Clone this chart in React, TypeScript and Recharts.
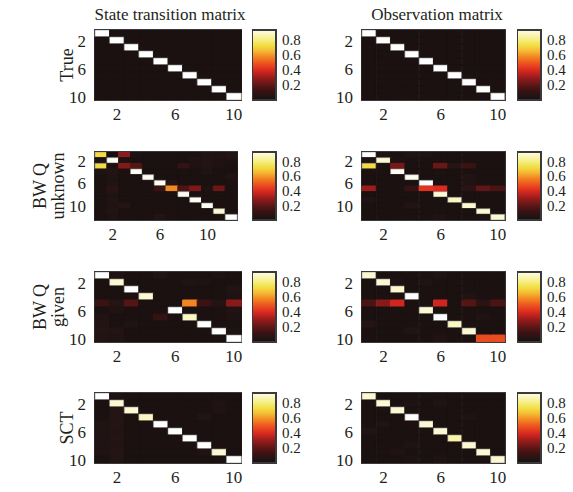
import React from 'react';
import { BarChart, Bar, XAxis, YAxis, Cell, ReferenceArea } from 'recharts';

// tick labels shown on both axes of every panel
const shownTicks = ['2', '6', '10'];
const colorbarTicks = [0.2, 0.4, 0.6, 0.8];
const columnTitles = ['State transition matrix', 'Observation matrix'];
const rowTitles = [['True'], ['BW Q', 'unknown'], ['BW Q', 'given'], ['SCT']];

const trueTransition = [
  [0.97, 0.02, 0.02, 0.02, 0.02, 0.02, 0.02, 0.02, 0.02, 0.02],
  [0.02, 0.97, 0.02, 0.02, 0.02, 0.02, 0.02, 0.02, 0.02, 0.02],
  [0.02, 0.02, 0.97, 0.02, 0.02, 0.02, 0.02, 0.02, 0.02, 0.02],
  [0.02, 0.02, 0.02, 0.97, 0.02, 0.02, 0.02, 0.02, 0.02, 0.02],
  [0.02, 0.02, 0.02, 0.02, 0.97, 0.02, 0.02, 0.02, 0.02, 0.02],
  [0.02, 0.02, 0.02, 0.02, 0.02, 0.97, 0.02, 0.02, 0.02, 0.02],
  [0.02, 0.02, 0.02, 0.02, 0.02, 0.02, 0.97, 0.02, 0.02, 0.02],
  [0.02, 0.02, 0.02, 0.02, 0.02, 0.02, 0.02, 0.97, 0.02, 0.02],
  [0.02, 0.02, 0.02, 0.02, 0.02, 0.02, 0.02, 0.02, 0.97, 0.02],
  [0.02, 0.02, 0.02, 0.02, 0.02, 0.02, 0.02, 0.02, 0.02, 0.97],
];

const trueObservation = [
  [0.97, 0.02, 0.02, 0.02, 0.02, 0.02, 0.02, 0.02, 0.02, 0.02],
  [0.02, 0.97, 0.02, 0.02, 0.02, 0.02, 0.02, 0.02, 0.02, 0.02],
  [0.02, 0.02, 0.97, 0.02, 0.02, 0.02, 0.02, 0.02, 0.02, 0.02],
  [0.02, 0.02, 0.02, 0.97, 0.02, 0.02, 0.02, 0.02, 0.02, 0.02],
  [0.02, 0.02, 0.02, 0.02, 0.97, 0.02, 0.02, 0.02, 0.02, 0.02],
  [0.02, 0.02, 0.02, 0.02, 0.02, 0.97, 0.02, 0.02, 0.02, 0.02],
  [0.02, 0.02, 0.02, 0.02, 0.02, 0.02, 0.97, 0.02, 0.02, 0.02],
  [0.02, 0.02, 0.02, 0.02, 0.02, 0.02, 0.02, 0.97, 0.02, 0.02],
  [0.02, 0.02, 0.02, 0.02, 0.02, 0.02, 0.02, 0.02, 0.97, 0.02],
  [0.02, 0.02, 0.02, 0.02, 0.02, 0.02, 0.02, 0.02, 0.02, 0.97],
];

const bwUnknownTransition = [
  [0.72, 0.0, 0.28, 0.03, 0.02, 0.02, 0.02, 0.02, 0.02, 0.05, 0.04, 0.05],
  [0.03, 0.95, 0.03, 0.02, 0.02, 0.02, 0.02, 0.02, 0.04, 0.05, 0.03, 0.03],
  [0.72, 0.02, 0.26, 0.18, 0.02, 0.02, 0.02, 0.1, 0.03, 0.05, 0.03, 0.02],
  [0.03, 0.05, 0.02, 0.95, 0.02, 0.02, 0.02, 0.02, 0.02, 0.04, 0.02, 0.02],
  [0.02, 0.05, 0.02, 0.02, 0.95, 0.02, 0.02, 0.02, 0.02, 0.02, 0.02, 0.04],
  [0.02, 0.04, 0.02, 0.02, 0.02, 0.95, 0.06, 0.02, 0.02, 0.02, 0.02, 0.02],
  [0.02, 0.08, 0.02, 0.02, 0.02, 0.12, 0.58, 0.16, 0.25, 0.03, 0.22, 0.02],
  [0.02, 0.04, 0.02, 0.02, 0.02, 0.02, 0.02, 0.95, 0.02, 0.02, 0.02, 0.02],
  [0.02, 0.05, 0.02, 0.02, 0.02, 0.02, 0.02, 0.02, 0.95, 0.02, 0.02, 0.02],
  [0.02, 0.04, 0.06, 0.02, 0.02, 0.02, 0.02, 0.02, 0.02, 0.95, 0.02, 0.02],
  [0.02, 0.05, 0.02, 0.02, 0.02, 0.02, 0.02, 0.02, 0.02, 0.02, 0.9, 0.02],
  [0.02, 0.03, 0.02, 0.02, 0.02, 0.05, 0.02, 0.02, 0.02, 0.02, 0.02, 0.97],
];

const bwUnknownObservation = [
  [0.97, 0.03, 0.02, 0.04, 0.03, 0.02, 0.02, 0.02, 0.02, 0.02],
  [0.03, 0.9, 0.03, 0.02, 0.02, 0.02, 0.02, 0.02, 0.02, 0.02],
  [0.72, 0.02, 0.24, 0.02, 0.02, 0.22, 0.06, 0.12, 0.02, 0.02],
  [0.02, 0.02, 0.95, 0.02, 0.02, 0.02, 0.02, 0.02, 0.02, 0.02],
  [0.02, 0.02, 0.02, 0.95, 0.02, 0.02, 0.02, 0.04, 0.02, 0.02],
  [0.02, 0.02, 0.02, 0.02, 0.97, 0.02, 0.02, 0.04, 0.02, 0.02],
  [0.3, 0.02, 0.02, 0.1, 0.42, 0.4, 0.02, 0.08, 0.2, 0.15],
  [0.02, 0.02, 0.02, 0.02, 0.02, 0.9, 0.02, 0.02, 0.02, 0.02],
  [0.04, 0.02, 0.02, 0.02, 0.02, 0.02, 0.88, 0.02, 0.02, 0.02],
  [0.02, 0.02, 0.02, 0.05, 0.02, 0.02, 0.02, 0.9, 0.02, 0.02],
  [0.02, 0.02, 0.02, 0.02, 0.02, 0.02, 0.02, 0.02, 0.9, 0.02],
  [0.02, 0.02, 0.02, 0.02, 0.02, 0.04, 0.02, 0.02, 0.02, 0.9],
];

const bwGivenTransition = [
  [0.97, 0.04, 0.02, 0.02, 0.05, 0.02, 0.02, 0.02, 0.03, 0.02],
  [0.02, 0.9, 0.02, 0.02, 0.02, 0.02, 0.04, 0.03, 0.02, 0.02],
  [0.02, 0.02, 0.97, 0.02, 0.02, 0.02, 0.02, 0.02, 0.02, 0.05],
  [0.02, 0.02, 0.02, 0.9, 0.02, 0.02, 0.02, 0.02, 0.02, 0.03],
  [0.12, 0.06, 0.18, 0.02, 0.02, 0.02, 0.57, 0.12, 0.05, 0.27],
  [0.02, 0.04, 0.02, 0.02, 0.02, 0.97, 0.02, 0.02, 0.02, 0.04],
  [0.04, 0.02, 0.02, 0.02, 0.1, 0.02, 0.88, 0.02, 0.02, 0.03],
  [0.05, 0.02, 0.04, 0.02, 0.02, 0.02, 0.02, 0.97, 0.02, 0.02],
  [0.06, 0.05, 0.02, 0.02, 0.02, 0.02, 0.02, 0.02, 0.97, 0.03],
  [0.05, 0.04, 0.02, 0.02, 0.02, 0.02, 0.02, 0.02, 0.02, 0.97],
];

const bwGivenObservation = [
  [0.9, 0.02, 0.02, 0.02, 0.02, 0.04, 0.02, 0.02, 0.02, 0.02],
  [0.02, 0.9, 0.03, 0.02, 0.04, 0.02, 0.02, 0.02, 0.02, 0.02],
  [0.02, 0.02, 0.9, 0.02, 0.02, 0.02, 0.02, 0.02, 0.02, 0.02],
  [0.02, 0.02, 0.02, 0.97, 0.02, 0.02, 0.02, 0.04, 0.02, 0.02],
  [0.15, 0.27, 0.38, 0.02, 0.02, 0.38, 0.02, 0.18, 0.08, 0.15],
  [0.02, 0.02, 0.02, 0.02, 0.9, 0.02, 0.02, 0.02, 0.02, 0.02],
  [0.02, 0.02, 0.02, 0.02, 0.02, 0.97, 0.02, 0.02, 0.04, 0.02],
  [0.06, 0.02, 0.02, 0.02, 0.02, 0.02, 0.88, 0.02, 0.02, 0.02],
  [0.02, 0.02, 0.02, 0.05, 0.02, 0.02, 0.02, 0.9, 0.02, 0.02],
  [0.02, 0.02, 0.02, 0.02, 0.02, 0.04, 0.02, 0.02, 0.47, 0.47],
];

const sctTransition = [
  [0.97, 0.03, 0.02, 0.02, 0.02, 0.02, 0.02, 0.02, 0.02, 0.02],
  [0.02, 0.9, 0.02, 0.02, 0.02, 0.02, 0.02, 0.02, 0.04, 0.02],
  [0.02, 0.06, 0.9, 0.02, 0.02, 0.02, 0.02, 0.02, 0.04, 0.02],
  [0.02, 0.06, 0.02, 0.88, 0.02, 0.02, 0.02, 0.05, 0.02, 0.02],
  [0.04, 0.06, 0.02, 0.02, 0.97, 0.02, 0.02, 0.02, 0.02, 0.02],
  [0.04, 0.05, 0.02, 0.02, 0.02, 0.97, 0.02, 0.02, 0.02, 0.02],
  [0.04, 0.06, 0.02, 0.02, 0.02, 0.02, 0.97, 0.02, 0.02, 0.02],
  [0.04, 0.05, 0.02, 0.02, 0.02, 0.02, 0.02, 0.97, 0.02, 0.02],
  [0.04, 0.06, 0.02, 0.02, 0.02, 0.02, 0.02, 0.04, 0.9, 0.02],
  [0.02, 0.05, 0.02, 0.02, 0.02, 0.02, 0.02, 0.02, 0.02, 0.97],
];

const sctObservation = [
  [0.9, 0.02, 0.02, 0.02, 0.02, 0.02, 0.02, 0.02, 0.02, 0.02],
  [0.02, 0.9, 0.02, 0.03, 0.02, 0.04, 0.02, 0.02, 0.02, 0.02],
  [0.02, 0.02, 0.9, 0.02, 0.02, 0.02, 0.02, 0.02, 0.02, 0.02],
  [0.02, 0.02, 0.02, 0.97, 0.02, 0.02, 0.02, 0.04, 0.02, 0.02],
  [0.02, 0.04, 0.02, 0.02, 0.9, 0.02, 0.02, 0.02, 0.02, 0.02],
  [0.05, 0.02, 0.02, 0.02, 0.02, 0.9, 0.02, 0.02, 0.02, 0.02],
  [0.02, 0.02, 0.02, 0.02, 0.02, 0.02, 0.85, 0.02, 0.02, 0.02],
  [0.02, 0.02, 0.02, 0.04, 0.02, 0.02, 0.02, 0.9, 0.02, 0.02],
  [0.02, 0.02, 0.04, 0.02, 0.02, 0.02, 0.02, 0.02, 0.9, 0.02],
  [0.02, 0.02, 0.02, 0.03, 0.02, 0.04, 0.02, 0.02, 0.02, 0.9],
];

const colorStops: [number, string][] = [
  [0.0, '#170f0f'],
  [0.05, '#221414'],
  [0.12, '#3a1212'],
  [0.2, '#5e1616'],
  [0.3, '#9a1c1c'],
  [0.4, '#dc2a20'],
  [0.5, '#ee5a20'],
  [0.58, '#f28a22'],
  [0.65, '#f5b835'],
  [0.72, '#f2dc40'],
  [0.8, '#f5ee80'],
  [0.9, '#fcf9d2'],
  [0.97, '#ffffff'],
];

const FONT = '"Liberation Serif", "DejaVu Serif", serif';
const INK = '#231f20';
const FRAME = '#3a3a3a';
const CB_MAX = 0.93;

function rgb(hex: string) {
  const n = parseInt(hex.slice(1), 16);
  return [(n >> 16) & 255, (n >> 8) & 255, n & 255];
}

function heatColor(v: number) {
  if (v <= colorStops[0][0]) return colorStops[0][1];
  for (let i = 1; i < colorStops.length; i++) {
    const [v1, c1] = colorStops[i];
    if (v <= v1) {
      const [v0, c0] = colorStops[i - 1];
      const t = (v - v0) / (v1 - v0);
      const a = rgb(c0);
      const b = rgb(c1);
      const m = a.map((x, k) => Math.round(x + (b[k] - x) * t));
      return `rgb(${m[0]},${m[1]},${m[2]})`;
    }
  }
  return colorStops[colorStops.length - 1][1];
}

const Y_AXIS_W = 34;
const X_AXIS_H = 26;
const TOP_PAD = 2;
const RIGHT_PAD = 2;

interface HeatmapProps {
  matrix: number[][];
  x: number;
  y: number;
  w: number;
  h: number;
}

function XTick(props: any) {
  const { x, y, payload } = props;
  if (!shownTicks.includes(payload.value)) return <g />;
  return (
    <text x={x} y={y} dy="0.75em" textAnchor="middle" fontSize={17} fontFamily={FONT} fill={INK}>
      {payload.value}
    </text>
  );
}

function Heatmap({ matrix, x, y, w, h }: HeatmapProps) {
  const nRows = matrix.length;
  const rowKeys = matrix.map((_, i) => `r${i}`);
  const data = matrix[0].map((_, j) => {
    const d: Record<string, string | number> = { col: String(j + 1) };
    rowKeys.forEach((k) => (d[k] = 1));
    return d;
  });
  const rowTicks = shownTicks.map((t) => Number(t) - 0.5).filter((t) => t < nRows);

  return (
    <div style={{ position: 'absolute', left: x - Y_AXIS_W, top: y - TOP_PAD }}>
      <BarChart
        width={Y_AXIS_W + w + RIGHT_PAD}
        height={TOP_PAD + h + X_AXIS_H}
        data={data}
        margin={{ top: TOP_PAD, right: RIGHT_PAD, left: 0, bottom: 0 }}
        barCategoryGap={0}
        barGap={0}
      >
        <XAxis
          dataKey="col"
          type="category"
          interval={0}
          height={X_AXIS_H}
          axisLine={false}
          tickLine={false}
          tickSize={0}
          tickMargin={7}
          tick={<XTick />}
        />
        <YAxis
          type="number"
          domain={[0, nRows]}
          reversed
          width={Y_AXIS_W}
          ticks={rowTicks}
          interval={0}
          tickFormatter={(v: number) => String(v + 0.5)}
          axisLine={false}
          tickLine={false}
          tickSize={0}
          tickMargin={9}
          tick={{ fontSize: 17, fontFamily: FONT, fill: INK }}
          allowDataOverflow
        />
        {rowKeys.map((k, i) => (
          <Bar key={k} dataKey={k} stackId="m" isAnimationActive={false}>
            {data.map((_, j) => {
              const v = matrix[i][j];
              const c = heatColor(v);
              return (
                <Cell
                  key={j}
                  fill={c}
                  stroke={v > 0.6 ? '#8a8a8a' : c}
                  strokeWidth={v > 0.6 ? 0.6 : 1}
                />
              );
            })}
          </Bar>
        ))}
        <ReferenceArea y1={0} y2={nRows} fill="none" stroke={FRAME} strokeWidth={2} />
      </BarChart>
    </div>
  );
}

interface ColorbarProps {
  id: string;
  x: number;
  y: number;
  w: number;
  h: number;
}

const colorbarData = [{ k: 'c', v: CB_MAX }];

function Colorbar({ id, x, y, w, h }: ColorbarProps) {
  return (
    <div style={{ position: 'absolute', left: x, top: y - TOP_PAD }}>
      <BarChart
        width={w + 40}
        height={h + TOP_PAD * 2}
        data={colorbarData}
        margin={{ top: TOP_PAD, right: 0, left: 0, bottom: TOP_PAD }}
        barCategoryGap={0}
      >
        <defs>
          <linearGradient id={id} x1="0" y1="1" x2="0" y2="0">
            {colorStops
              .filter(([v]) => v <= CB_MAX)
              .concat([[CB_MAX, heatColor(CB_MAX)]])
              .map(([v, c]) => (
                <stop key={v} offset={v / CB_MAX} stopColor={c} />
              ))}
          </linearGradient>
        </defs>
        <XAxis dataKey="k" hide />
        <YAxis
          orientation="right"
          type="number"
          domain={[0, CB_MAX]}
          ticks={colorbarTicks}
          interval={0}
          tickFormatter={(v: number) => v.toFixed(1)}
          width={40}
          axisLine={false}
          tickLine={false}
          tickSize={0}
          tickMargin={6}
          tick={{ fontSize: 15, fontFamily: FONT, fill: INK }}
        />
        <Bar dataKey="v" fill={`url(#${id})`} stroke={FRAME} strokeWidth={2} isAnimationActive={false} />
      </BarChart>
    </div>
  );
}

const panels = [
  [trueTransition, trueObservation],
  [bwUnknownTransition, bwUnknownObservation],
  [bwGivenTransition, bwGivenObservation],
  [sctTransition, sctObservation],
];

const rowTop = [30, 152, 272, 393];
const rowHeight = [70, 68, 70, 70];
const colLeft = [95, 362];
const colWidth = [146, 143];
const cbLeft = [252, 517];

export default function App() {
  return (
    <div style={{ position: 'absolute', left: 0, top: 0, width: 573, height: 492, background: '#fff' }}>
      {panels.map((pair, r) =>
        pair.map((m, c) => (
          <React.Fragment key={`${r}-${c}`}>
            <Heatmap
              matrix={m}
              x={colLeft[c]}
              y={rowTop[r]}
              w={r === 1 && c === 0 ? 142 : colWidth[c]}
              h={rowHeight[r]}
            />
            <Colorbar id={`cb-${r}-${c}`} x={cbLeft[c]} y={rowTop[r]} w={24} h={rowHeight[r]} />
          </React.Fragment>
        ))
      )}
      <svg width={573} height={492} style={{ position: 'absolute', left: 0, top: 0, pointerEvents: 'none' }}>
        <text x={170} y={20} textAnchor="middle" fontSize={17} fontFamily={FONT} fill={INK}>
          {columnTitles[0]}
        </text>
        <text x={437} y={20} textAnchor="middle" fontSize={17} fontFamily={FONT} fill={INK}>
          {columnTitles[1]}
        </text>
        {rowTitles.map((lines, r) => {
          const cy = rowTop[r] + rowHeight[r] / 2;
          return lines.map((line, i) => {
            const cx = lines.length === 1 ? 67 : i === 0 ? 40 : 58;
            return (
              <text
                key={`${r}-${i}`}
                x={cx}
                y={cy}
                transform={`rotate(-90 ${cx} ${cy})`}
                textAnchor="middle"
                dominantBaseline="central"
                fontSize={18}
                fontFamily={FONT}
                fill={INK}
              >
                {line}
              </text>
            );
          });
        })}
      </svg>
    </div>
  );
}
